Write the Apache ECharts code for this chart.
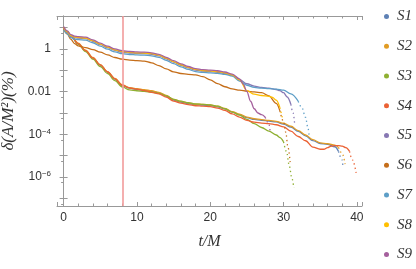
<!DOCTYPE html>
<html><head><meta charset="utf-8">
<script src="https://cdn.jsdelivr.net/npm/echarts@6/dist/echarts.min.js"></script>
<style>html,body{margin:0;padding:0;background:#fff}#c{width:416px;height:269px}</style>
</head><body><div id="c"></div>
<script>
const seriesNames = ['S1','S2','S3','S4','S5','S6','S7','S8','S9'];
const seriesColors = ['#5E81B5','#E19C24','#8FB032','#EB6235','#8778B3','#C56E1A','#5D9EC7','#FFBF00','#A5609D'];

const S1 = [[0,9.77],[0.5,6.17],[1,3.89],[2,1.74],[3,0.813],[4,0.372],[5,0.174],[6,0.0813],[7,0.0389],[8,0.0195],[9,0.0145],[10,0.0129],[11,0.0115],[12,0.0102],[13,8.71e-3],[14,6.17e-3],[15,4.07e-3],[16,3.24e-3],[17,2.75e-3],[18,2.45e-3],[19,2.34e-3],[20,2.24e-3],[21,1.95e-3],[22,1.55e-3],[23,1.10e-3],[24,8.32e-4],[25,6.03e-4],[26,5.01e-4],[27,4.57e-4],[28,4.17e-4],[29,3.8e-4],[30,3.02e-4],[31,2.19e-4],[32,1.38e-4],[33,8.51e-5],[34,5.13e-5],[35,3.72e-5],[36,3.39e-5],[37,2.63e-5],[37.5,1.58e-5],[38,6.31e-6],[38.1,3.16e-6]];
const S2 = [[0,10.5],[0.5,6.61],[1,4.17],[2,1.86],[3,0.871],[4,0.398],[5,0.186],[6,0.0871],[7,0.0417],[8,0.0209],[9,0.0155],[10,0.0138],[11,0.0123],[12,0.011],[13,9.33e-3],[14,6.61e-3],[15,4.37e-3],[16,3.47e-3],[17,2.95e-3],[18,2.63e-3],[19,2.51e-3],[20,2.40e-3],[21,2.09e-3],[22,1.66e-3],[23,1.17e-3],[24,8.91e-4],[25,6.46e-4],[26,5.37e-4],[27,4.9e-4],[28,4.47e-4],[29,4.07e-4],[30,3.31e-4],[31,2.40e-4],[32,1.51e-4],[33,9.33e-5],[34,5.62e-5],[35,3.98e-5],[36,3.63e-5],[37,3.16e-5],[37.5,2.4e-5],[38,1.26e-5],[38.4,3.98e-6]];
const S3 = [[0,10],[0.5,6.31],[1,3.98],[2,1.66],[3,0.759],[4,0.331],[5,0.151],[6,0.0708],[7,0.0331],[8,0.0166],[9,0.012],[10,0.011],[11,0.0102],[12,9.55e-3],[13,8.32e-3],[14,6.31e-3],[15,4.37e-3],[16,3.55e-3],[17,3.02e-3],[18,2.69e-3],[19,2.51e-3],[20,2.40e-3],[21,2.09e-3],[22,1.58e-3],[23,1.10e-3],[24,7.94e-4],[25,5.01e-4],[26,3.16e-4],[27,2.09e-4],[28,1.41e-4],[29,9.33e-5],[29.5,7.08e-5],[30,4.47e-5],[30.4,1.58e-5],[30.8,3.16e-6],[31.1,1.0e-6],[31.4,3.16e-7]];
const S4 = [[0,10],[0.5,6.31],[1,3.98],[2,1.78],[3,0.832],[4,0.38],[5,0.178],[6,0.0832],[7,0.0398],[8,0.02],[9,0.0148],[10,0.0132],[11,0.0112],[12,9.33e-3],[13,7.94e-3],[14,5.5e-3],[15,3.63e-3],[16,2.88e-3],[17,2.45e-3],[18,2.19e-3],[19,2.09e-3],[20,2.0e-3],[21,1.70e-3],[22,1.32e-3],[23,9.12e-4],[24,6.46e-4],[25,4.47e-4],[26,3.72e-4],[27,3.39e-4],[28,3.16e-4],[29,2.82e-4],[30,2.24e-4],[31,1.41e-4],[32,7.94e-5],[33,5.01e-5],[34,2.51e-5],[35,2.0e-5],[35.5,2.0e-5],[36,2.4e-5],[36.5,2.82e-5],[37,2.95e-5],[37.5,2.95e-5],[38,2.82e-5],[38.5,2.4e-5],[39,1.58e-5],[39.4,6.31e-6],[39.9,1.58e-6]];
const S5 = [[0,9.55],[0.5,6.03],[1,3.98],[1.5,3.39],[2,3.24],[3,3.02],[4,2.29],[5,1.58],[6,1.15],[7,0.851],[8,0.708],[9,0.646],[10,0.617],[11,0.603],[12,0.562],[13,0.479],[14,0.347],[15,0.240],[16,0.170],[17,0.129],[18,0.102],[19,0.0912],[20,0.0871],[21,0.0813],[22,0.0708],[23,0.0575],[24,0.0363],[25,0.0234],[26,0.0182],[27,0.0158],[28,0.0145],[29,0.0126],[29.5,0.0112],[30,8.91e-3],[30.5,5.62e-3],[31,2.51e-3],[31.3,1.0e-3],[31.5,3.55e-4]];
const S6 = [[0,8.91],[0.5,5.01],[1,2.82],[1.5,1.78],[2,1.38],[2.5,1.26],[3,1.15],[4,0.933],[5,0.708],[6,0.525],[7,0.398],[8,0.331],[9,0.302],[10,0.282],[11,0.269],[12,0.224],[13,0.166],[14,0.117],[15,0.0851],[16,0.0708],[17,0.0646],[18,0.0617],[19,0.0501],[20,0.0355],[21,0.024],[22,0.017],[23,0.0135],[24,0.0117],[25,0.0105],[26,9.77e-3],[27,8.91e-3],[28,6.31e-3],[29,2.82e-3],[29.5,1.26e-3],[30,3.98e-4],[30.3,1.26e-4],[30.6,2.51e-5],[30.9,5.01e-6]];
const S7 = [[0,8.13],[0.5,5.13],[1,3.39],[1.5,2.88],[2,2.75],[3,2.57],[4,1.95],[5,1.35],[6,0.977],[7,0.724],[8,0.603],[9,0.550],[10,0.525],[11,0.513],[12,0.479],[13,0.407],[14,0.295],[15,0.204],[16,0.145],[17,0.110],[18,0.0871],[19,0.0794],[20,0.0759],[21,0.0724],[22,0.0646],[23,0.0537],[24,0.0316],[25,0.02],[26,0.0158],[27,0.0145],[28,0.0138],[29,0.0132],[30,0.0117],[31,7.94e-3],[32,3.55e-3],[32.5,1.78e-3],[33,6.31e-4],[33.3,2.24e-4],[33.5,7.94e-5]];
const S8 = [[0,10.2],[0.5,6.46],[1,4.27],[1.5,3.63],[2,3.47],[3,3.24],[4,2.45],[5,1.70],[6,1.23],[7,0.912],[8,0.759],[9,0.692],[10,0.661],[11,0.646],[12,0.603],[13,0.513],[14,0.372],[15,0.257],[16,0.182],[17,0.138],[18,0.110],[19,0.0977],[20,0.0933],[21,0.0871],[22,0.0759],[23,0.0617],[24,0.0355],[25,0.0112],[26,7.59e-3],[27,6.61e-3],[28,6.03e-3],[28.5,5.37e-3],[29,3.98e-3],[29.5,1.78e-3],[29.9,5.01e-4]];
const S9 = [[0,11.2],[0.5,7.08],[1,4.68],[1.5,3.98],[2,3.8],[3,3.55],[4,2.69],[5,1.86],[6,1.35],[7,1.0],[8,0.832],[9,0.759],[10,0.724],[11,0.708],[12,0.661],[13,0.562],[14,0.407],[15,0.282],[16,0.2],[17,0.151],[18,0.120],[19,0.107],[20,0.102],[21,0.0955],[22,0.0832],[23,0.0661],[24,0.0398],[24.5,0.0224],[25,0.01],[25.5,3.55e-3],[26,1.58e-3],[26.5,1.0e-3],[27,8.32e-4],[27.5,6.31e-4],[28,3.16e-4],[28.2,1.12e-4]];

const allSeries = [S1,S2,S3,S4,S5,S6,S7,S8,S9];
// time from which each trace is drawn as sparse points (steep drop)
const tailStart = [37.5, 37.5, 30, 39, 31, 29.5, 32, 29.5, 27.5];
const xTicks = [0,10,20,30,40];
const yTickValues = [1,0.01,1e-4,1e-6];
const yTickLabels = ['1','0.01','10^−4','10^−6'];
const cutoffTime = 8.1;

const frameColor = '#999';
const serifFont = '"Liberation Serif", "DejaVu Serif", serif';
const sansFont = '"Liberation Sans", "DejaVu Sans", sans-serif';

function yLabel(v) {
  const lv = Math.log10(v);
  for (let i = 0; i < yTickValues.length; i++) {
    if (Math.abs(lv - Math.log10(yTickValues[i])) < 1e-6) {
      const t = yTickLabels[i];
      if (t.indexOf('^') >= 0) { const p = t.split('^'); return '{b|' + p[0] + '}{s|' + p[1] + '}'; }
      return '{b|' + t + '}';
    }
  }
  return '';
}
function xLabel(v) { return xTicks.indexOf(v) >= 0 ? String(v) : ''; }

const xCommon = { type:'value', min:-0.9, max:40.7, splitNumber:4,
  axisLine:{show:true, lineStyle:{color:frameColor, width:1}},
  axisTick:{show:true, inside:true, length:4, lineStyle:{color:frameColor}},
  minorTick:{show:true, splitNumber:5, length:2.5, lineStyle:{color:frameColor}},
  splitLine:{show:false} };
const yCommon = { type:'log', logBase:10, min:4.4e-8, max:35, splitNumber:10,
  axisLine:{show:true, lineStyle:{color:frameColor, width:1}},
  axisTick:{show:true, inside:true, length:4, lineStyle:{color:frameColor}},
  splitLine:{show:false} };

const series = [];
allSeries.forEach((d, i) => {
  const main = d.filter(p => p[0] <= tailStart[i]);
  const tail = d.filter(p => p[0] >= tailStart[i]);
  const base = { name:seriesNames[i], type:'line', xAxisIndex:0, yAxisIndex:0,
    showSymbol:false, smooth:0.35, smoothMonotone:'x', color:seriesColors[i],
    itemStyle:{color:seriesColors[i]}, z:3 };
  const s = Object.assign({}, base, { data:main, lineStyle:{width:1.3, color:seriesColors[i]} });
  if (i === 0) {
    s.markLine = { silent:true, symbol:'none', label:{show:false},
      lineStyle:{color:'#F29B9B', width:1.6, type:'solid'}, data:[{xAxis:cutoffTime}] };
  }
  series.push(s);
  series.push(Object.assign({}, base, { data:tail,
    lineStyle:{width:1.3, color:seriesColors[i], type:[1.3, 3]} }));
});

const chart = echarts.init(document.getElementById('c'), null, {renderer:'canvas'});
chart.setOption({
  animation:false,
  backgroundColor:'#fff',
  grid:{left:57, right:54, top:16, bottom:63, containLabel:false, outerBoundsMode:'none'},
  legend:{
    orient:'vertical', left:379, top:4, itemGap:14.75, itemWidth:5, itemHeight:5, icon:'circle',
    data: seriesNames,
    textStyle:{fontFamily:serifFont, fontStyle:'italic', fontSize:15, color:'#333', lineHeight:14, padding:[0,0,0,3]}
  },
  xAxis:[
    Object.assign({}, xCommon, { position:'bottom',
      name:'t/M', nameLocation:'middle', nameGap:28,
      nameTextStyle:{fontFamily:serifFont, fontStyle:'italic', fontSize:16, color:'#333'},
      axisLabel:{show:true, margin:6, fontFamily:sansFont, fontSize:12, color:'#333', formatter:xLabel} }),
    Object.assign({}, xCommon, { position:'top', axisLabel:{show:false} })
  ],
  yAxis:[
    Object.assign({}, yCommon, { position:'left',
      name:'δ(A/M²)(%)', nameLocation:'middle', nameGap:31,
      nameTextStyle:{fontFamily:serifFont, fontStyle:'italic', fontSize:17, color:'#333'},
      axisLabel:{show:true, margin:6, formatter:yLabel,
        rich:{ b:{fontFamily:sansFont, fontSize:12, color:'#333', lineHeight:14},
               s:{fontFamily:sansFont, fontSize:8, color:'#333', verticalAlign:'top', lineHeight:8} } } }),
    Object.assign({}, yCommon, { position:'right', axisLabel:{show:false},
      minorTick:{show:true, splitNumber:2, length:2.5, lineStyle:{color:frameColor}} })
  ],
  series: series
});
</script></body></html>
